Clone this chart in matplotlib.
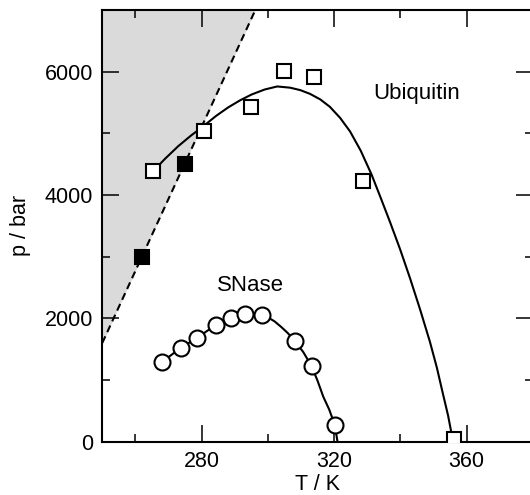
import numpy as np
import matplotlib
matplotlib.use("Agg")
import matplotlib.pyplot as plt

plt.rcParams['font.family'] = ['Liberation Sans', 'DejaVu Sans']

# ubiquitin: open squares (measured), filled squares (other data set)
ubi_T = [265.4, 280.8, 294.9, 304.9, 313.9, 328.8, 356.1]
ubi_p = [4390, 5030, 5420, 6015, 5910, 4230, 40]
ubi_fill_T = [262.1, 275.0]
ubi_fill_p = [3000, 4500]

# ubiquitin fit curve
ubi_fit_T = [265.4, 269.0, 272.9, 276.7, 280.5, 284.3, 288.0, 291.6, 295.1, 299.0,
             302.8, 306.7, 309.8, 312.7, 315.8, 318.7, 321.8, 324.8, 328.0, 331.3,
             334.0, 336.8, 339.9, 342.9, 345.9, 348.9, 351.0, 352.9, 354.4, 355.5, 356.0]
ubi_fit_p = [4390, 4590, 4790, 4960, 5115, 5280, 5420, 5535, 5630, 5710,
             5760, 5740, 5700, 5640, 5550, 5430, 5250, 5030, 4720, 4330,
             3960, 3570, 3120, 2650, 2150, 1620, 1200, 760, 420, 110, 0]

# SNase: open circles
sn_T = [268.1, 273.7, 278.7, 284.2, 288.8, 293.1, 298.1, 308.2, 313.2, 320.2]
sn_p = [1295, 1520, 1685, 1890, 2005, 2075, 2060, 1625, 1220, 270]

# SNase fit curve
sn_fit_T = [268.1, 273.7, 278.7, 284.2, 288.8, 293.1, 296.0, 298.1, 300.0, 302.0,
            304.0, 306.0, 308.2, 310.7, 313.2, 315.0, 316.7, 318.5, 320.2, 321.0]
sn_fit_p = [1295, 1520, 1685, 1890, 2005, 2075, 2080, 2060, 2015, 1950,
            1860, 1760, 1625, 1450, 1220, 985, 730, 520, 270, 0]

# dashed boundary line (ends on the frame)
dash_T = [250.0, 296.2]
dash_p = [1600, 7000]

fig = plt.figure(figsize=(5.3, 4.95), dpi=100)
ax = fig.add_axes([0.1930, 0.1079, 0.8125, 0.8719])

ax.fill_betweenx(dash_p, [250, 250], dash_T, color='#dadada', lw=0, zorder=0)
ax.plot(dash_T, dash_p, color='black', lw=1.5, dashes=(3.5, 2.2), zorder=2)

ax.plot(ubi_fit_T, ubi_fit_p, color='black', lw=1.5, zorder=2)
ax.plot(sn_fit_T, sn_fit_p, color='black', lw=1.5, zorder=2)

ax.plot(ubi_T, ubi_p, 's', ms=10, mfc='white', mec='black', mew=1.5, zorder=3)
ax.plot(ubi_fill_T, ubi_fill_p, 's', ms=10, mfc='black', mec='black', mew=1.5, zorder=3)
ax.plot(sn_T, sn_p, 'o', ms=11.5, mfc='white', mec='black', mew=1.5, zorder=3)

ax.text(344.8, 5650, 'Ubiquitin', fontsize=16, ha='center', va='center')
ax.text(294.6, 2530, 'SNase', fontsize=16, ha='center', va='center')

ax.set_xlim(250, 380)
ax.set_ylim(0, 7000)
ax.set_xticks([280, 320, 360])
ax.set_xticks([260, 300, 340, 380], minor=True)
ax.set_yticks([0, 2000, 4000, 6000])
ax.set_yticks([1000, 3000, 5000, 7000], minor=True)

ax.tick_params(which='both', direction='in', top=True, right=True, labelsize=15.5,
               width=1.1, pad=6.5)
ax.tick_params(which='major', length=12)
ax.tick_params(which='minor', length=6)
for s in ax.spines.values():
    s.set_linewidth(1.5)

ax.set_xlabel('T / K', fontsize=15.5, labelpad=2)
ax.set_ylabel('p / bar', fontsize=15.5, labelpad=10)

fig.savefig('out.png', dpi=100)
